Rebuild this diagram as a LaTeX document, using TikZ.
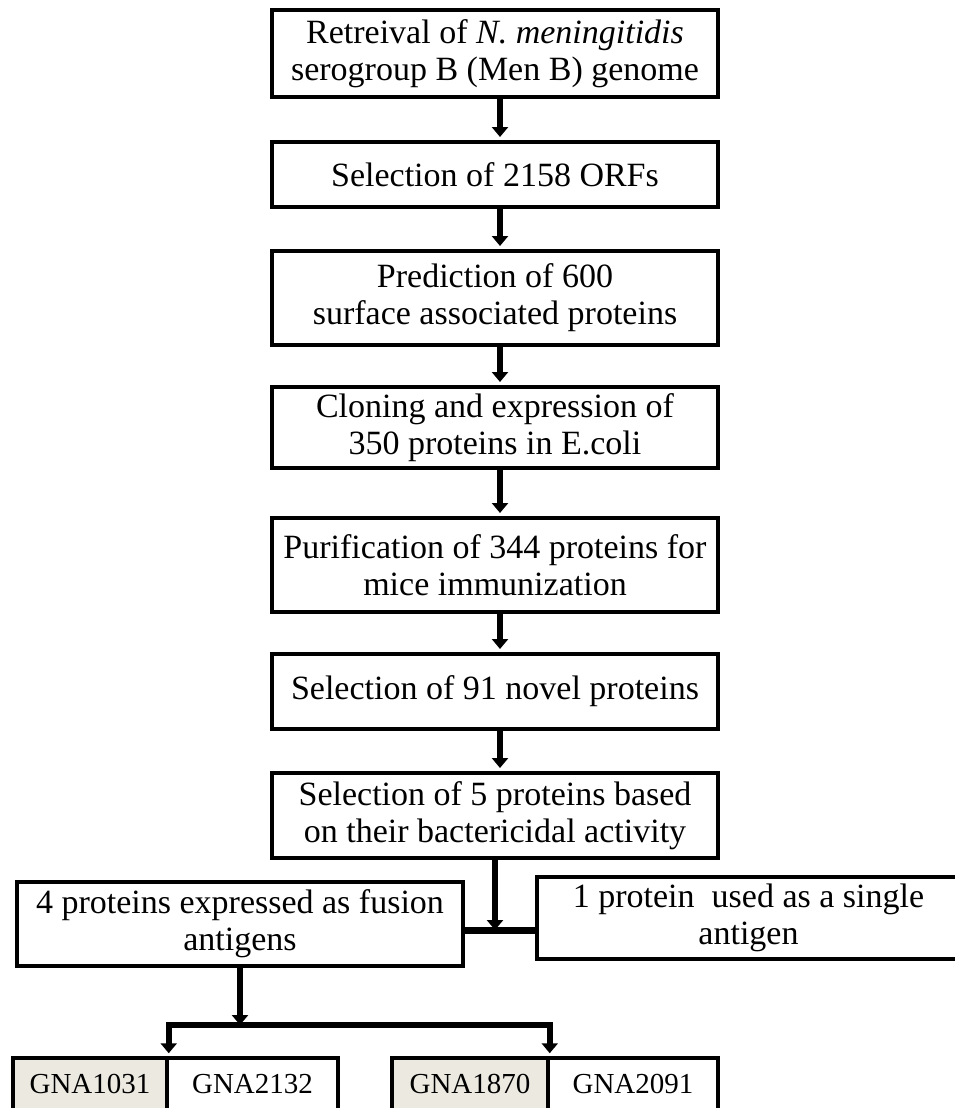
\documentclass[tikz,border=0pt]{standalone}
\usepackage{fontspec}
\setmainfont{Liberation Serif}
\usetikzlibrary{arrows.meta,calc}
\definecolor{gnashade}{RGB}{236,233,225}

\begin{document}
\begin{tikzpicture}
[x=1pt,y=-1pt,
  stepbox/.style={shape=rectangle,draw,line width=4pt,minimum width=446pt,align=center,inner sep=3pt,
    font=\fontsize{34}{37}\selectfont},%
  gnabox/.style={shape=rectangle,draw,line width=3.5pt,minimum height=52pt,inner sep=2pt,
    font=\fontsize{29}{31}\selectfont},%
  flowline/.style={line width=5.5pt},%
  flowarrow/.style={flowline,-{Triangle[width=16pt,length=10pt]},shorten >=3pt}]
\path[use as bounding box] (0,0) rectangle (955,1108);
\clip (0,0) rectangle (955,1108);
%% main steps
\foreach \nodename/\y/\h/\txt in {
  s1/53.5/87/{Retreival of \textit{N. meningitidis}\\serogroup B (Men B) genome},
  s2/174.5/65/{Selection of 2158 ORFs},
  s3/298/94/{Prediction of 600\\surface associated proteins},
  s4/427.5/81/{Cloning and expression of\\350 proteins in E.coli},
  s5/565/94/{Purification of 344 proteins for\\mice immunization},
  s6/691.5/75/{Selection of 91 novel proteins},
  s7/815.5/85/{Selection of 5 proteins based\\on their bactericidal activity}}
{
  \node (\nodename) at (495,\y) [stepbox,minimum height=\h pt] {\txt};
}
%% branches
\node (fusion) at (240,924) [stepbox,minimum height=84pt] {4 proteins expressed as fusion\\antigens};
\node (single) at (748.5,918) [stepbox,minimum width=423pt,minimum height=82pt] {1 protein\ \ used as a single\\antigen};
%% antigens
\foreach \nodename/\x/\w/\fillcol/\txt in {g1/90/154/gnashade/GNA1031, g2/252.5/171/white/GNA2132,
  g3/470/156/gnashade/GNA1870, g4/633/170/white/GNA2091}
{
  \node (\nodename) at (\x,1084) [gnabox,minimum width=\w pt,fill=\fillcol] {\txt};
}
%% arrows
\path
\foreach \startnode/\endnode in {s1/s2, s2/s3, s3/s4, s4/s5, s5/s6, s6/s7}
{
  ([xshift=5pt]\startnode.south) edge[flowarrow] ([xshift=5pt]\endnode.north)
};
\coordinate (join) at ($(s7.south)+(0,70)$);
\coordinate (split) at ($(fusion.south)+(0,57)$);
\draw[flowline,line width=7pt] (fusion.east |- join) -- (single.west |- join);
\draw[flowarrow,shorten >=0pt] (s7.south) -- (join);
\draw[flowarrow,shorten >=0pt] (fusion.south) -- (split);
\draw[flowarrow] (split) -| (g1.north east);
\draw[flowarrow] (split) -| (g3.north east);
\end{tikzpicture}
\end{document}
